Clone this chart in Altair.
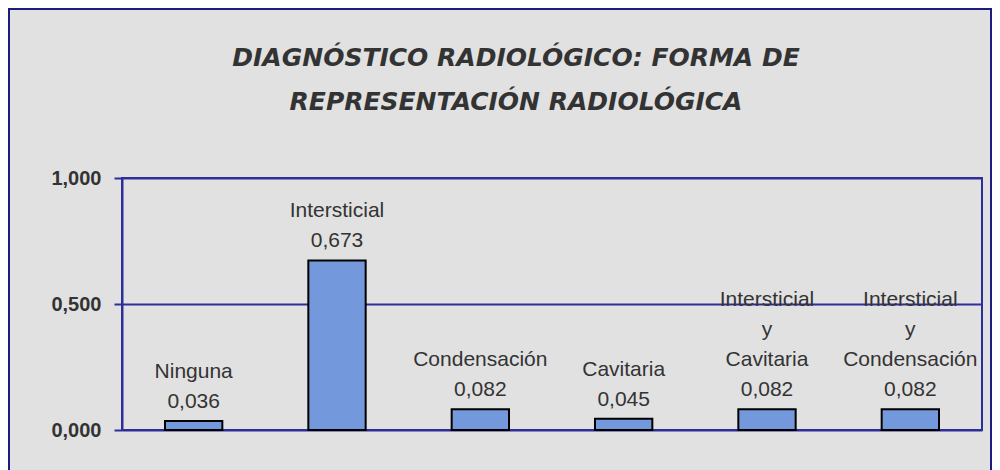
import altair as alt
import pandas as pd

categories = ["Ninguna", "Intersticial", "Condensación", "Cavitaria",
              "Intersticial y Cavitaria", "Intersticial y Condensación"]
label_lines = [["Ninguna"], ["Intersticial"], ["Condensación"], ["Cavitaria"],
               ["Intersticial", "y", "Cavitaria"], ["Intersticial", "y", "Condensación"]]
values = [0.036, 0.673, 0.082, 0.045, 0.082, 0.082]
y_ticks = [0.0, 0.5, 1.0]
title_lines = ["DIAGNÓSTICO RADIOLÓGICO: FORMA DE", "REPRESENTACIÓN RADIOLÓGICA"]

df = pd.DataFrame({"cat": categories, "val": values})

# one row per label line, k = line index counted from the bottom (0 = value)
rows = []
for c, lines, v in zip(categories, label_lines, values):
    all_lines = lines + [f"{v:.3f}".replace(".", ",")]
    for k, t in enumerate(reversed(all_lines)):
        rows.append({"cat": c, "val": v, "txt": t, "k": k})
lab_df = pd.DataFrame(rows)

NAVY = "#2e2e9a"
W, H = 860, 252
PL, PT, PR, PB = 114, 170, 10, 60
LINE_H = 30
GAP = 13

x = alt.X("cat:N", sort=categories, axis=None,
          scale=alt.Scale(paddingInner=0.6, paddingOuter=0.3))
y = alt.Y("val:Q", scale=alt.Scale(domain=[0, 1]),
          axis=alt.Axis(values=y_ticks, title=None, grid=True, gridColor=NAVY,
                        gridWidth=2, domainColor=NAVY, domainWidth=2,
                        tickColor=NAVY, tickWidth=2, tickSize=8,
                        labelFont="Liberation Sans", labelFontSize=20,
                        labelFontWeight="bold", labelColor="#333333",
                        labelPadding=13,
                        labelExpr="replace(format(datum.value, '.3f'), '.', ',')"))

frame = alt.Chart(df).mark_rect(fill=None, stroke="#1c1c80", strokeWidth=2).encode(
    x=alt.value(-PL + 1), x2=alt.value(W + PR - 1),
    y=alt.value(-PT + 1), y2=alt.value(H + PB + 20))

bars = alt.Chart(df).mark_bar(color="#7399dc", stroke="black", strokeWidth=2).encode(
    x=x, y=y)

label_layers = []
for k in range(int(lab_df["k"].max()) + 1):
    label_layers.append(
        alt.Chart(lab_df).transform_filter(alt.datum.k == k).mark_text(
            baseline="alphabetic", dy=-GAP - LINE_H * k,
            font="Liberation Sans", fontSize=21, color="#333333").encode(
            x=x, y=alt.Y("val:Q"), text="txt:N"))

chart = alt.layer(frame, bars, *label_layers).properties(
    width=W, height=H,
    autosize=alt.AutoSizeParams(type="none"),
    padding={"left": PL, "top": PT, "right": PR, "bottom": PB},
    background="#e1e1e1",
    title=alt.TitleParams(
        text=title_lines,
        font="DejaVu Sans", fontSize=25, fontStyle="italic", fontWeight="bold",
        color="#333333", anchor="middle", dx=-36, offset=-107, lineHeight=44),
).configure_view(stroke=NAVY, strokeWidth=2)

chart.save("out.html", embed_options={"renderer": "svg", "actions": False})
